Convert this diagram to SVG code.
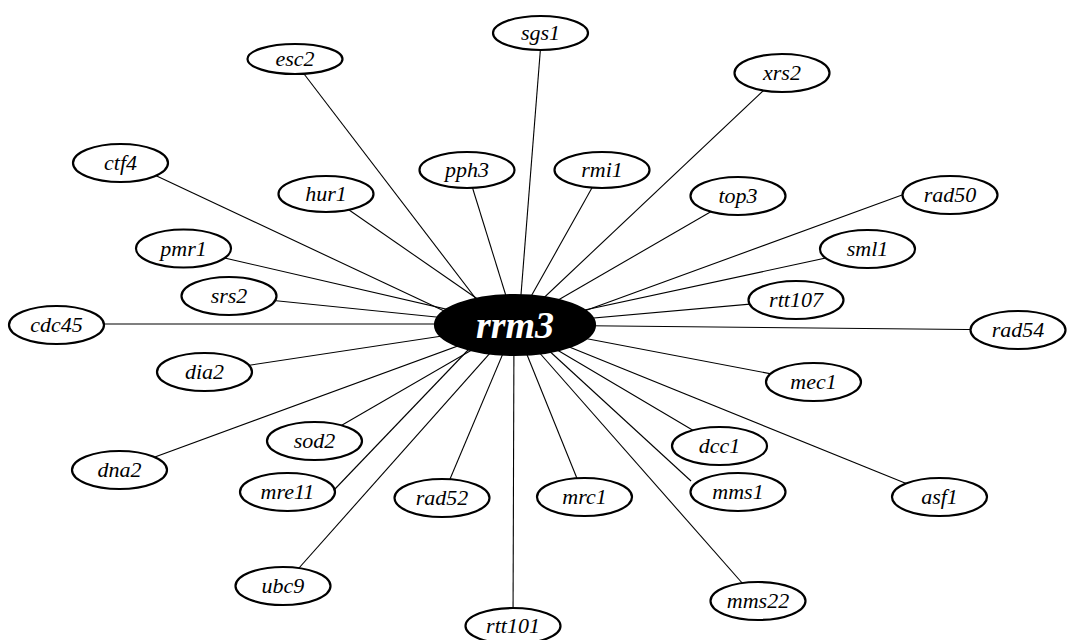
<svg xmlns="http://www.w3.org/2000/svg" width="1068" height="640" viewBox="0 0 1068 640">
<style>
.e line{stroke:#000;stroke-width:1.1}
.n ellipse{fill:#fff;stroke:#000;stroke-width:2.2}
.n text{font-family:"Liberation Serif","Times New Roman",serif;font-style:italic;font-size:22px;text-anchor:middle;fill:#000}
#rrm3 ellipse{fill:#000;stroke:#000}
#rrm3 text{font-size:38px;font-weight:bold;fill:#fff}
</style>
<rect width="1068" height="640" fill="#fff"/>
<g class="e">
<line x1="518.6" y1="325" x2="541.7" y2="33"/>
<line x1="496" y1="325" x2="292.6" y2="59"/>
<line x1="515" y1="325" x2="782" y2="73"/>
<line x1="474" y1="325" x2="120.5" y2="159"/>
<line x1="515" y1="325" x2="467" y2="170"/>
<line x1="515" y1="325" x2="602" y2="170"/>
<line x1="515" y1="325" x2="326" y2="194"/>
<line x1="515" y1="325" x2="738" y2="196"/>
<line x1="546" y1="325" x2="902" y2="195"/>
<line x1="515" y1="325" x2="183.5" y2="248.5"/>
<line x1="515" y1="325" x2="867.5" y2="249"/>
<line x1="515" y1="325" x2="229" y2="296"/>
<line x1="515" y1="325" x2="796" y2="300"/>
<line x1="515" y1="324" x2="56.5" y2="324"/>
<line x1="515" y1="325" x2="1018" y2="330"/>
<line x1="515" y1="325" x2="204.5" y2="372"/>
<line x1="515" y1="325" x2="813.5" y2="382"/>
<line x1="515" y1="325" x2="314.5" y2="441"/>
<line x1="515" y1="325" x2="719.5" y2="446"/>
<line x1="515" y1="325" x2="119.5" y2="470"/>
<line x1="492" y1="325" x2="334" y2="490"/>
<line x1="515" y1="325" x2="442" y2="498"/>
<line x1="515" y1="325" x2="584.5" y2="497"/>
<line x1="521" y1="325" x2="691" y2="481"/>
<line x1="515" y1="325" x2="939.5" y2="497"/>
<line x1="515" y1="325" x2="283" y2="586"/>
<line x1="514" y1="325" x2="513" y2="626"/>
<line x1="515" y1="325" x2="758" y2="601"/>
</g>
<g class="n" id="sgs1"><ellipse cx="540.5" cy="33" rx="47.5" ry="17"/><text x="540.5" y="40">sgs1</text></g>
<g class="n" id="esc2"><ellipse cx="295" cy="59" rx="47.5" ry="15"/><text x="295" y="66">esc2</text></g>
<g class="n" id="xrs2"><ellipse cx="782" cy="73" rx="47.5" ry="19"/><text x="782" y="80">xrs2</text></g>
<g class="n" id="ctf4"><ellipse cx="120.5" cy="163" rx="47.5" ry="19"/><text x="120.5" y="170">ctf4</text></g>
<g class="n" id="pph3"><ellipse cx="467" cy="170" rx="47.5" ry="18"/><text x="467" y="177">pph3</text></g>
<g class="n" id="rmi1"><ellipse cx="602" cy="170" rx="47.5" ry="18"/><text x="602" y="177">rmi1</text></g>
<g class="n" id="hur1"><ellipse cx="326" cy="194" rx="47.5" ry="18"/><text x="326" y="201">hur1</text></g>
<g class="n" id="top3"><ellipse cx="738" cy="196" rx="47.5" ry="19"/><text x="738" y="203">top3</text></g>
<g class="n" id="rad50"><ellipse cx="950" cy="195" rx="47.5" ry="19"/><text x="950" y="202">rad50</text></g>
<g class="n" id="pmr1"><ellipse cx="183.5" cy="248.5" rx="47.5" ry="19"/><text x="183.5" y="255.5">pmr1</text></g>
<g class="n" id="sml1"><ellipse cx="867.5" cy="249" rx="47.5" ry="19"/><text x="867.5" y="256">sml1</text></g>
<g class="n" id="srs2"><ellipse cx="229" cy="296" rx="47.5" ry="19"/><text x="229" y="303">srs2</text></g>
<g class="n" id="rtt107"><ellipse cx="796" cy="300" rx="47.5" ry="19"/><text x="796" y="307">rtt107</text></g>
<g class="n" id="cdc45"><ellipse cx="56.5" cy="325" rx="47.5" ry="19"/><text x="56.5" y="332">cdc45</text></g>
<g class="n" id="rad54"><ellipse cx="1018" cy="330" rx="47.5" ry="19"/><text x="1018" y="337">rad54</text></g>
<g class="n" id="dia2"><ellipse cx="204.5" cy="372" rx="47.5" ry="19"/><text x="204.5" y="379">dia2</text></g>
<g class="n" id="mec1"><ellipse cx="813.5" cy="382" rx="47.5" ry="19"/><text x="813.5" y="389">mec1</text></g>
<g class="n" id="sod2"><ellipse cx="314.5" cy="441" rx="47.5" ry="19"/><text x="314.5" y="448">sod2</text></g>
<g class="n" id="dcc1"><ellipse cx="719.5" cy="446" rx="47.5" ry="19"/><text x="719.5" y="453">dcc1</text></g>
<g class="n" id="dna2"><ellipse cx="119.5" cy="470" rx="47.5" ry="19"/><text x="119.5" y="477">dna2</text></g>
<g class="n" id="mre11"><ellipse cx="287.5" cy="492" rx="47.5" ry="19"/><text x="287.5" y="499">mre11</text></g>
<g class="n" id="rad52"><ellipse cx="442" cy="498" rx="47.5" ry="19"/><text x="442" y="505">rad52</text></g>
<g class="n" id="mrc1"><ellipse cx="584.5" cy="497" rx="47.5" ry="19"/><text x="584.5" y="504">mrc1</text></g>
<g class="n" id="mms1"><ellipse cx="738" cy="492" rx="47.5" ry="19"/><text x="738" y="499">mms1</text></g>
<g class="n" id="asf1"><ellipse cx="939.5" cy="497" rx="47.5" ry="19"/><text x="939.5" y="504">asf1</text></g>
<g class="n" id="ubc9"><ellipse cx="283" cy="586" rx="47.5" ry="19"/><text x="283" y="593">ubc9</text></g>
<g class="n" id="rtt101"><ellipse cx="513" cy="626" rx="47.5" ry="18"/><text x="513" y="633">rtt101</text></g>
<g class="n" id="mms22"><ellipse cx="758" cy="601" rx="47.5" ry="19"/><text x="758" y="608">mms22</text></g>
<g class="n" id="rrm3"><ellipse cx="515" cy="325" rx="80" ry="30"/><text x="515" y="338">rrm3</text></g>
</svg>
